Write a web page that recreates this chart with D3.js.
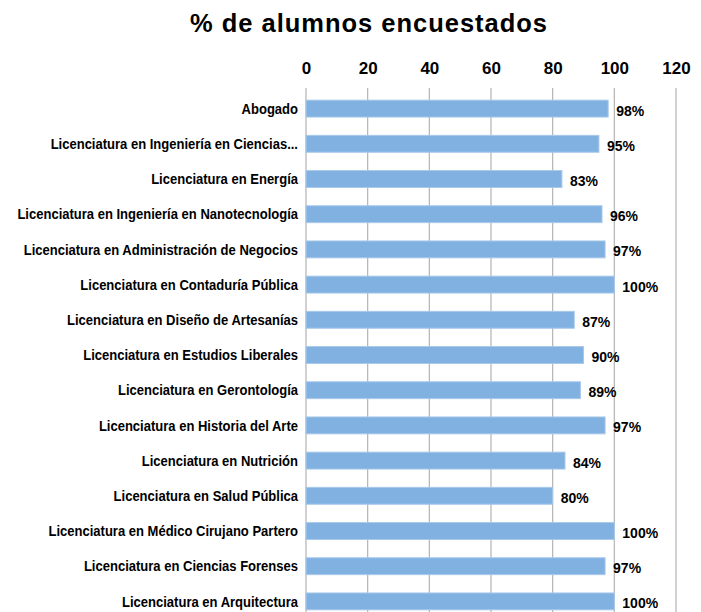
<html>
<script src="https://d3js.org/d3.v7.min.js"></script>
<body style="margin:0;background:#fff">
<svg width=701 height=612></svg>
<script>
const programs = [
  "Abogado",
  "Licenciatura en Ingeniería en Ciencias...",
  "Licenciatura en Energía",
  "Licenciatura en Ingeniería en Nanotecnología",
  "Licenciatura en Administración de Negocios",
  "Licenciatura en Contaduría Pública",
  "Licenciatura en Diseño de Artesanías",
  "Licenciatura en Estudios Liberales",
  "Licenciatura en Gerontología",
  "Licenciatura en Historia del Arte",
  "Licenciatura en Nutrición",
  "Licenciatura en Salud Pública",
  "Licenciatura en Médico Cirujano Partero",
  "Licenciatura en Ciencias Forenses",
  "Licenciatura en Arquitectura"
];
const pct = [98, 95, 83, 96, 97, 100, 87, 90, 89, 97, 84, 80, 100, 97, 100];
const xTicks = [0, 20, 40, 60, 80, 100, 120];

const font = "'Liberation Sans', Arial, Helvetica, sans-serif";
const svg = d3.select("svg");

var x = d3.scaleLinear().domain([0, 120]).range([306, 676]);
var y = d3.scaleBand().domain(programs).range([91, 91 + 35.2 * programs.length])
  .paddingInner(0.52).paddingOuter(0.26);

// gridlines
svg.selectAll(".grid")
  .data(xTicks)
  .enter()
  .append("line")
    .attr("x1", d => x(d)).attr("x2", d => x(d))
    .attr("y1", 88).attr("y2", 612)
    .attr("stroke", "#b3b3b3")
    .attr("stroke-width", 1.2);

// top axis labels
var xAx = d3.axisTop(x).tickValues(xTicks).tickSize(0).tickPadding(0);
var gx = svg.append("g").attr("transform", "translate(0,74)").call(xAx);
gx.select(".domain").remove();
gx.selectAll("text")
  .attr("dy", 0)
  .style("font-family", font)
  .style("font-weight", "bold")
  .style("font-size", "17px")
  .style("fill", "#000");

// bars
svg.selectAll(".bar")
  .data(pct)
  .enter()
  .append("rect")
    .attr("x", x(0))
    .attr("y", (d, i) => y(programs[i]))
    .attr("width", d => x(d) - x(0))
    .attr("height", y.bandwidth())
    .attr("fill", "#80b1e0")
    .attr("stroke", "#a9c9ea")
    .attr("stroke-width", 1);

// category labels (condensed look: squeeze horizontally)
var cats = svg.selectAll(".cat")
  .data(programs)
  .enter()
  .append("text")
    .attr("class", "cat")
    .attr("text-anchor", "end")
    .attr("dy", "0.36em")
    .style("font-family", font)
    .style("font-weight", "bold")
    .style("font-size", "14.5px")
    .text(d => d);
var longest = d3.max(cats.nodes(), n => n.getComputedTextLength());
var sq = 281 / longest;
cats.attr("transform", d => "translate(298," + (y(d) + y.bandwidth() / 2) + ") scale(" + sq + ",1)");

// value labels
svg.selectAll(".val")
  .data(pct)
  .enter()
  .append("text")
    .attr("x", d => x(d) + 8)
    .attr("y", (d, i) => y(programs[i]) + y.bandwidth() / 2 + 2)
    .attr("dy", "0.36em")
    .style("font-family", font)
    .style("font-weight", "bold")
    .style("font-size", "14px")
    .text(d => d + "%");

var title = svg.append("text")
  .attr("text-anchor", "middle")
  .style("font-family", font)
  .style("font-weight", "bold")
  .style("font-size", "26px")
  .style("letter-spacing", "1px")
  .text("% de alumnos encuestados");
var tsq = 358 / title.node().getComputedTextLength();
title.attr("transform", "translate(369,32) scale(" + tsq + ",1)");
</script>
</body>
</html>
